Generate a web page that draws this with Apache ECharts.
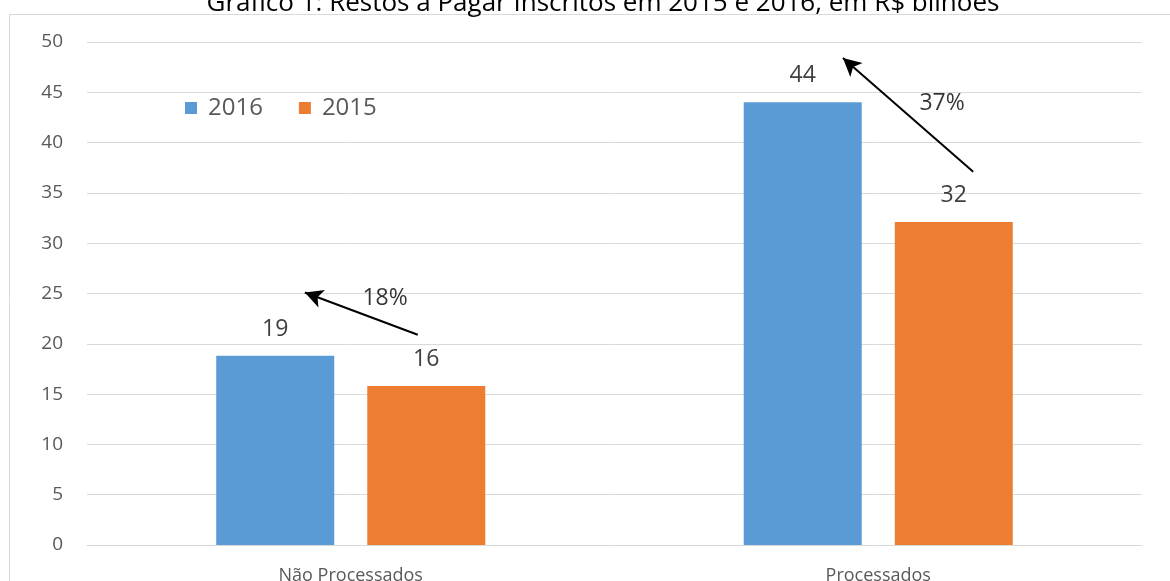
<!DOCTYPE html>
<html>
<head>
<meta charset="utf-8">
<script src="https://cdn.jsdelivr.net/npm/echarts@6/dist/echarts.min.js"></script>
<style>
  html, body { margin: 0; padding: 0; background: #fff; }
  #chart { width: 1170px; height: 581px; }
</style>
</head>
<body>
<div id="chart"></div>
<script>
// data
const categories = ['Não Processados', 'Processados'];
const values2016 = [18.8, 44.0];
const values2015 = [15.8, 32.1];
const yTicks = { min: 0, max: 50, interval: 5 };

// growth annotations: arrow from [x0, y0] to [x1, y1] in (group position, value) space
// group position runs 0..2, category i spans [i, i + 1]
const growthArrows = [
  [[0.627, 20.9], [0.413, 25.1]],
  [[1.68, 37.1], [1.433, 48.4]],
];
const growthLabels = [
  { text: '18%', pos: [0.565, 24.5] },
  { text: '37%', pos: [1.621, 43.9] },
];

const FONT = '"Open Sans", "Noto Sans", sans-serif';
const chart = echarts.init(document.getElementById('chart'));

const barLabel = {
  show: true,
  position: 'top',
  distance: 15,
  color: '#404040',
  fontSize: 23,
  fontFamily: FONT,
  formatter: p => Math.round(p.value),
};

chart.setOption({
  animation: false,
  backgroundColor: '#fff',
  title: {
    text: 'Gráfico 1: Restos a Pagar Inscritos em 2015 e 2016, em R$ bilhões',
    left: 598,
    textAlign: 'center',
    top: -14,
    textStyle: { color: '#000', fontSize: 26, fontWeight: 'normal', fontFamily: FONT },
  },
  graphic: [
    {
      type: 'rect',
      shape: { x: 9.5, y: 14.5, width: 1180, height: 600 },
      style: { fill: 'none', stroke: '#d9d9d9', lineWidth: 1 },
      z: -1,
    },
  ],
  legend: {
    left: 180,
    top: 91,
    itemWidth: 12,
    itemHeight: 12,
    itemGap: 36,
    icon: 'rect',
    textStyle: { color: '#595959', fontSize: 24, fontFamily: FONT, padding: [0, 0, 0, 6] },
    data: ['2016', '2015'],
  },
  grid: { left: 87, right: 28, top: 42, bottom: 36, containLabel: false, outerBoundsMode: 'none' },
  xAxis: [
    {
      type: 'category',
      data: categories,
      axisLine: { lineStyle: { color: '#d9d9d9' } },
      axisTick: { show: false },
      axisLabel: { color: '#595959', fontSize: 18, fontFamily: FONT, margin: 22 },
    },
    {
      type: 'value',
      min: 0,
      max: 2,
      show: false,
    },
  ],
  yAxis: {
    type: 'value',
    min: yTicks.min,
    max: yTicks.max,
    interval: yTicks.interval,
    axisLine: { show: false },
    axisTick: { show: false },
    splitLine: { lineStyle: { color: '#d9d9d9' } },
    axisLabel: { color: '#595959', fontSize: 19, fontFamily: FONT, margin: 24 },
  },
  series: [
    {
      name: '2016',
      type: 'bar',
      data: values2016,
      barWidth: 118,
      barGap: '28%',
      itemStyle: { color: '#5b9bd5' },
      label: barLabel,
    },
    {
      name: '2015',
      type: 'bar',
      data: values2015,
      barWidth: 118,
      barGap: '28%',
      itemStyle: { color: '#ed7d31' },
      label: barLabel,
    },
    {
      name: 'growth',
      type: 'scatter',
      xAxisIndex: 1,
      symbolSize: 0,
      data: growthLabels.map(g => ({ value: g.pos, name: g.text })),
      label: {
        show: true,
        position: 'inside',
        formatter: p => p.name,
        color: '#000',
        fontSize: 23,
        fontFamily: FONT,
      },
      markLine: {
        silent: true,
        symbol: ['none', 'arrow'],
        symbolSize: [14, 18],
        label: { show: false },
        lineStyle: { color: '#000', width: 2, type: 'solid' },
        data: growthArrows.map(([a, b]) => [{ coord: a }, { coord: b }]),
      },
      z: 5,
    },
  ],
});
</script>
</body>
</html>
